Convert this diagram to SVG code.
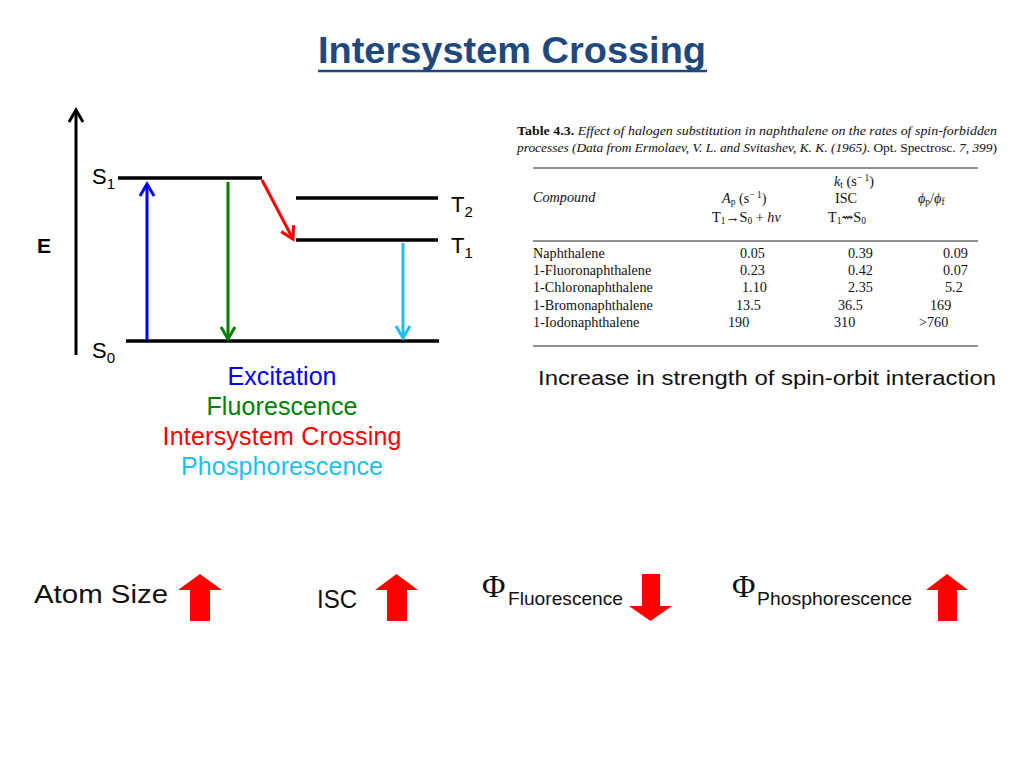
<svg xmlns="http://www.w3.org/2000/svg" width="1024" height="768" viewBox="0 0 1024 768">
<defs>
<style>
.sans{font-family:"Liberation Sans",Arial,sans-serif}
.serif{font-family:"Liberation Serif","DejaVu Serif",serif}
.lvl{stroke:#000;stroke-width:3.5;fill:none}
.tr{stroke-width:3;fill:none}
.tbl{font-family:"Liberation Serif","DejaVu Serif",serif;font-size:14.2px;fill:#111}
.rule{stroke:#222;stroke-width:1.2}
.blk{fill:#FF0000}
</style>
<marker id="hK" markerUnits="userSpaceOnUse" viewBox="-14 -10 16 20" refX="0" refY="0" markerWidth="16" markerHeight="20" orient="auto" overflow="visible"><path d="M-12,-7 L0,0 L-12,7" fill="none" stroke="#000" stroke-width="3"/></marker>
<marker id="hB" markerUnits="userSpaceOnUse" viewBox="-14 -10 16 20" refX="0" refY="0" markerWidth="16" markerHeight="20" orient="auto" overflow="visible"><path d="M-12,-7 L0,0 L-12,7" fill="none" stroke="#0000FF" stroke-width="3"/></marker>
<marker id="hG" markerUnits="userSpaceOnUse" viewBox="-14 -10 16 20" refX="0" refY="0" markerWidth="16" markerHeight="20" orient="auto" overflow="visible"><path d="M-12,-7 L0,0 L-12,7" fill="none" stroke="#008000" stroke-width="3"/></marker>
<marker id="hR" markerUnits="userSpaceOnUse" viewBox="-14 -10 16 20" refX="0" refY="0" markerWidth="16" markerHeight="20" orient="auto" overflow="visible"><path d="M-12,-7 L0,0 L-12,7" fill="none" stroke="#FF0000" stroke-width="3"/></marker>
<marker id="hC" markerUnits="userSpaceOnUse" viewBox="-14 -10 16 20" refX="0" refY="0" markerWidth="16" markerHeight="20" orient="auto" overflow="visible"><path d="M-12,-7 L0,0 L-12,7" fill="none" stroke="#1EBEF0" stroke-width="3"/></marker>
</defs>
<rect width="1024" height="768" fill="#fff"/>

<g id="title">
<text x="512" y="63" text-anchor="middle" class="sans" font-size="36" font-weight="bold" fill="#1F497D" textLength="388" lengthAdjust="spacingAndGlyphs">Intersystem Crossing</text>
<line x1="318" y1="71" x2="707" y2="71" stroke="#1F497D" stroke-width="2.5"/>
</g>

<g id="energy-axis">
<line x1="76" y1="355" x2="76" y2="110" stroke="#000" stroke-width="3" marker-end="url(#hK)"/>
<text x="37" y="253" class="sans" font-size="21" font-weight="bold">E</text>
</g>

<g id="level-S1">
<line x1="118" y1="178" x2="262" y2="178" class="lvl"/>
<text x="92" y="184" class="sans" font-size="22">S<tspan font-size="15" dy="5">1</tspan></text>
</g>
<g id="level-T2">
<line x1="296" y1="198" x2="438" y2="198" class="lvl"/>
<text x="451" y="212" class="sans" font-size="22">T<tspan font-size="15" dy="5">2</tspan></text>
</g>
<g id="level-T1">
<line x1="296" y1="240" x2="438" y2="240" class="lvl"/>
<text x="451" y="253" class="sans" font-size="22">T<tspan font-size="15" dy="5">1</tspan></text>
</g>
<g id="level-S0">
<line x1="126" y1="341" x2="439" y2="341" class="lvl"/>
<text x="92" y="358" class="sans" font-size="22">S<tspan font-size="15" dy="5">0</tspan></text>
</g>

<g id="transitions">
<line x1="147" y1="340" x2="147" y2="184" class="tr" stroke="#0000FF" marker-end="url(#hB)"/>
<line x1="228" y1="182" x2="228" y2="339" class="tr" stroke="#008000" marker-end="url(#hG)"/>
<line x1="262" y1="180" x2="293" y2="239" class="tr" stroke="#FF0000" marker-end="url(#hR)"/>
<line x1="403" y1="243" x2="403" y2="338" class="tr" stroke="#1EBEF0" marker-end="url(#hC)"/>
</g>

<g id="legend" class="sans" font-size="25" text-anchor="middle">
<text x="282" y="385" fill="#0000FF" textLength="109">Excitation</text>
<text x="282" y="415" fill="#008000" textLength="151">Fluorescence</text>
<text x="282" y="445" fill="#FF0000" textLength="239">Intersystem Crossing</text>
<text x="282" y="475" fill="#1EBEF0" textLength="202">Phosphorescence</text>
</g>

<g id="table">
<text x="517" y="135" class="serif" font-size="12.5" fill="#111" textLength="480" lengthAdjust="spacingAndGlyphs"><tspan font-weight="bold">Table 4.3.</tspan><tspan font-style="italic">  Effect of halogen substitution in naphthalene on the rates of spin-forbidden</tspan></text>
<text x="517" y="152" class="serif" font-size="12.5" fill="#111" textLength="480" lengthAdjust="spacingAndGlyphs"><tspan font-style="italic">processes (Data from Ermolaev, V. L. and Svitashev, K. K. (1965)</tspan>. Opt. Spectrosc. <tspan font-style="italic">7, 399</tspan>)</text>
<line x1="533" y1="168" x2="978" y2="168" class="rule"/>
<text x="834" y="186" class="tbl"><tspan font-style="italic">k</tspan><tspan font-size="9.5" dy="2">t</tspan><tspan dy="-2"> (s</tspan><tspan font-size="9.5" dy="-5">− 1</tspan><tspan dy="5">)</tspan></text>
<text x="533" y="202" class="tbl" font-style="italic">Compound</text>
<text x="722" y="203" class="tbl"><tspan font-style="italic">A</tspan><tspan font-size="9.5" dy="2">p</tspan><tspan dy="-2"> (s</tspan><tspan font-size="9.5" dy="-5">− 1</tspan><tspan dy="5">)</tspan></text>
<text x="835" y="203" class="tbl">ISC</text>
<text x="918" y="203" class="tbl"><tspan font-style="italic">ϕ</tspan><tspan font-size="9.5" dy="2">p</tspan><tspan dy="-2">/</tspan><tspan font-style="italic">ϕ</tspan><tspan font-size="9.5" dy="2">f</tspan></text>
<text x="712" y="222" class="tbl">T<tspan font-size="9.5" dy="2">1</tspan><tspan dy="-2">→S</tspan><tspan font-size="9.5" dy="2">0</tspan><tspan dy="-2"> + </tspan><tspan font-style="italic">hν</tspan></text>
<text x="828" y="222" class="tbl">T<tspan font-size="9.5" dy="2">1</tspan><tspan dy="-2">⇝S</tspan><tspan font-size="9.5" dy="2">0</tspan></text>
<line x1="533" y1="241" x2="978" y2="241" class="rule"/>
<g class="tbl">
<text x="533" y="258">Naphthalene</text>
<text x="533" y="275">1-Fluoronaphthalene</text>
<text x="533" y="292">1-Chloronaphthalene</text>
<text x="533" y="310">1-Bromonaphthalene</text>
<text x="533" y="327">1-Iodonaphthalene</text>
<text x="740" y="258">0.05</text>
<text x="740" y="275">0.23</text>
<text x="742" y="292">1.10</text>
<text x="736" y="310">13.5</text>
<text x="728" y="327">190</text>
<text x="848" y="258">0.39</text>
<text x="848" y="275">0.42</text>
<text x="848" y="292">2.35</text>
<text x="838" y="310">36.5</text>
<text x="834" y="327">310</text>
<text x="943" y="258">0.09</text>
<text x="943" y="275">0.07</text>
<text x="945" y="292">5.2</text>
<text x="930" y="310">169</text>
<text x="919" y="327">&gt;760</text>
</g>
<line x1="533" y1="346" x2="978" y2="346" class="rule"/>
</g>

<g id="caption">
<text x="538" y="385" class="sans" font-size="20" fill="#111" textLength="458" lengthAdjust="spacingAndGlyphs">Increase in strength of spin-orbit interaction</text>
</g>

<g id="atom-size">
<text x="34" y="603" class="sans" font-size="26" fill="#111" textLength="134" lengthAdjust="spacingAndGlyphs">Atom Size</text>
<polygon class="blk" points="178,590 200,574 222,590 210,590 210,621 190,621 190,590"/>
</g>
<g id="isc">
<text x="317" y="608" class="sans" font-size="26" fill="#111" textLength="40" lengthAdjust="spacingAndGlyphs">ISC</text>
<polygon class="blk" points="375,590 396.5,574 418,590 407,590 407,621 387,621 387,590"/>
</g>
<g id="phi-fluorescence">
<text x="482" y="597" class="serif" font-size="32" fill="#111">Φ</text>
<text x="508" y="605" class="sans" font-size="19" fill="#111" textLength="115" lengthAdjust="spacingAndGlyphs">Fluorescence</text>
<polygon class="blk" points="629,606 650.5,621 672,606 660,606 660,574 642,574 642,606"/>
</g>
<g id="phi-phosphorescence">
<text x="732" y="597" class="serif" font-size="32" fill="#111">Φ</text>
<text x="757" y="605" class="sans" font-size="19" fill="#111" textLength="155" lengthAdjust="spacingAndGlyphs">Phosphorescence</text>
<polygon class="blk" points="926,590 947,574 968,590 957,590 957,621 938,621 938,590"/>
</g>
</svg>
